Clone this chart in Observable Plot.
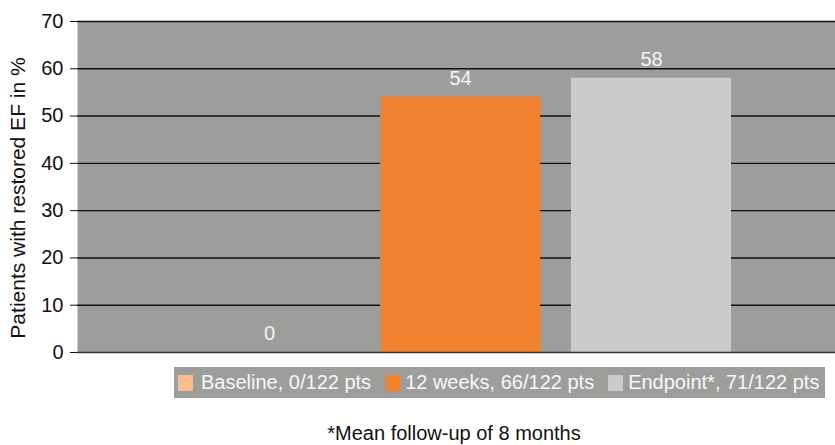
<!DOCTYPE html>
<html>
<head>
<meta charset="utf-8">
<script src="https://cdn.jsdelivr.net/npm/d3@7"></script>
<script src="https://cdn.jsdelivr.net/npm/@observablehq/plot@0.6"></script>
<style>
  body { margin: 0; background: #fff; font-family: "Liberation Sans", Arial, sans-serif; }
  #chart { width: 835px; }
  .legend {
    position: absolute; left: 174px; top: 367px; width: 651px; height: 31px;
    background: #9d9e9c; display: flex; align-items: center; box-sizing: border-box;
    padding-left: 4px; color: #f7f7f7; font-size: 20px; white-space: nowrap;
  }
  .legend .item { display: flex; align-items: center; margin-right: 14px; }
  .legend .sw { width: 15px; height: 16px; margin-right: 8px; }
  .legend .item + .item .sw { margin-right: 5px; }
  .note {
    position: absolute; left: 0; width: 908px; top: 422px; text-align: center;
    font-size: 20px; color: #111;
  }
</style>
</head>
<body>
<div id="chart"></div>
<script>
// Share of patients with restored ejection fraction at each time point
const categories = ["Baseline", "12 weeks", "Endpoint"];
const percents = [0, 54, 58];
const legendLabels = ["Baseline, 0/122 pts", "12 weeks, 66/122 pts", "Endpoint*, 71/122 pts"];
const colors = ["#f9bd8d", "#f1822f", "#cbcbcb"];
const yTicks = [0, 10, 20, 30, 40, 50, 60, 70];
const yTitle = "Patients with restored EF in %";
const footnote = "*Mean follow-up of 8 months";

const rows = categories.map((c, i) => ({category: c, value: percents[i]}));

const plot = Plot.plot({
  width: 835,
  height: 362,
  marginLeft: 77,
  marginRight: 0,
  marginTop: 21,
  marginBottom: 10,
  style: {fontFamily: "'Liberation Sans', Arial, sans-serif", fontSize: "20px", color: "#111", background: "#fff"},
  x: {domain: categories, paddingInner: 0.164, paddingOuter: 0.56, align: 0.52, axis: null},
  y: {domain: [0, 70], ticks: yTicks},
  color: {domain: categories, range: colors},
  marks: [
    Plot.frame({fill: "#9d9e9c", stroke: null}),
    Plot.gridY(yTicks.filter(t => t > 0), {stroke: "#111", strokeOpacity: 1, strokeWidth: 1.4}),
    Plot.barY(rows, {x: "category", y: "value", fill: "category"}),
    Plot.ruleY([0], {stroke: "#333", strokeWidth: 1.6}),
    Plot.ruleX([0], {frameAnchor: "left", stroke: "#333", strokeWidth: 1.6}),
    Plot.axisY({ticks: yTicks, tickSize: 7, tickPadding: 7, label: null, fontSize: 20, stroke: "#111"}),
    Plot.text(rows, {x: "category", y: "value", text: d => String(d.value), dy: -19, fill: "#f4f4f4", fontSize: 20}),
    Plot.text([yTitle], {frameAnchor: "left", rotate: -90, textAnchor: "middle", dx: -59, dy: 11, fontSize: 21, fill: "#111", text: d => d})
  ]
});
document.getElementById("chart").appendChild(plot);

// Legend and footnote beneath the chart
const legend = document.createElement("div");
legend.className = "legend";
legendLabels.forEach((label, i) => {
  const item = document.createElement("div");
  item.className = "item";
  const sw = document.createElement("span");
  sw.className = "sw";
  sw.style.background = colors[i];
  const tx = document.createElement("span");
  tx.textContent = label;
  item.appendChild(sw);
  item.appendChild(tx);
  legend.appendChild(item);
});
document.body.appendChild(legend);

const note = document.createElement("div");
note.className = "note";
note.textContent = footnote;
document.body.appendChild(note);
</script>
</body>
</html>
